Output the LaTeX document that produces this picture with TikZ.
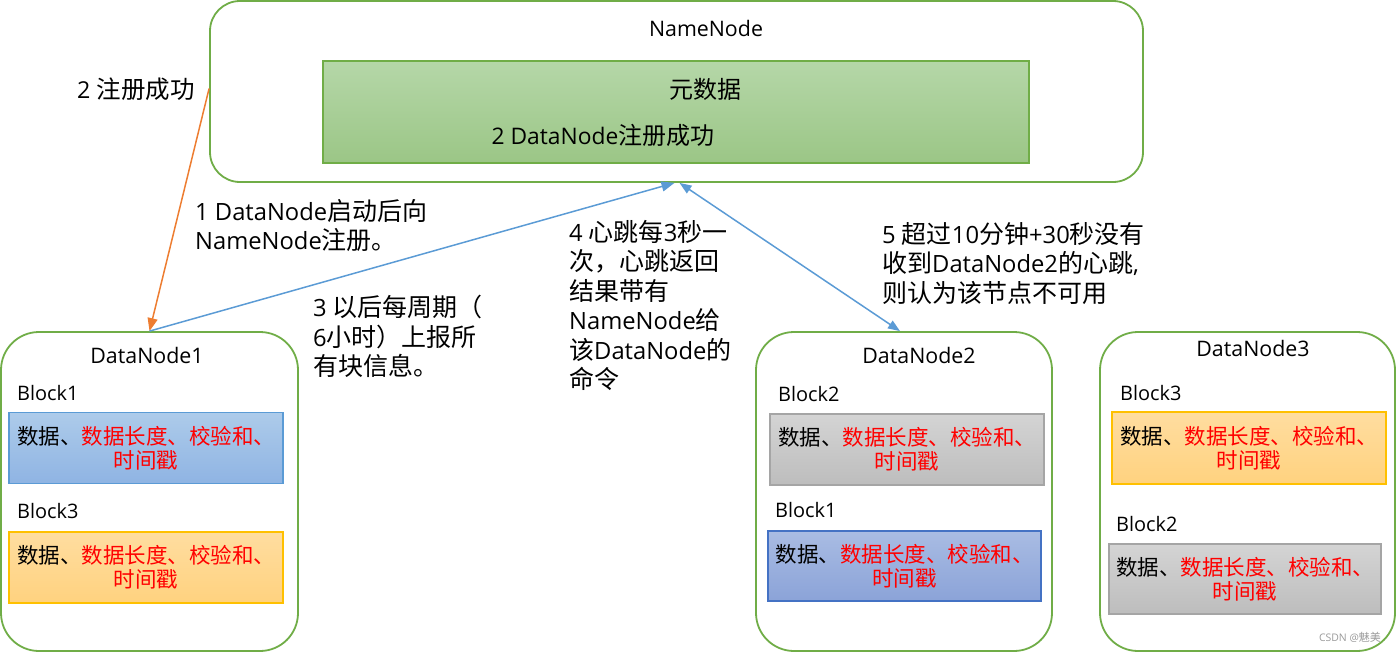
\documentclass[tikz,border=0pt]{standalone}
\usepackage{fontspec}
\setmainfont{Open Sans}[Scale=0.95]
\newfontfamily\zhfont{Noto Sans CJK SC}
\newcommand{\zh}[1]{{\zhfont #1}}
\usetikzlibrary{arrows.meta}
\definecolor{cgreen}{HTML}{70AD47}
\definecolor{corange}{HTML}{ED7D31}
\definecolor{cblue}{HTML}{5B9BD5}
\definecolor{cdblue}{HTML}{4472C4}
\definecolor{cgold}{HTML}{FFC000}
\definecolor{cgray}{HTML}{A5A5A5}
\definecolor{cred}{HTML}{FF0000}
\definecolor{cwm}{HTML}{9A9A9A}
\newcommand{\blocktext}{\zh{数据、}\textcolor{cred}{\zh{数据长度、校验和、}}\\\textcolor{cred}{\zh{时间戳}}}
\begin{document}
\begin{tikzpicture}[x=1pt,y=-1pt,
  font=\fontsize{21}{29.5}\selectfont,
  container/.style={draw=cgreen, line width=1.8pt, rounded corners=38pt, fill=white, inner sep=0pt},
  nnbox/.style={draw=cgreen, line width=1.8pt, rounded corners=30pt, fill=white, inner sep=0pt},
  metabox/.style={draw=cgreen, line width=1.6pt, top color={rgb,255:red,181;green,215;blue,168}, bottom color={rgb,255:red,155;green,198;blue,134}, inner sep=0pt},
  blockbox/.style={line width=1.5pt, minimum width=274pt, minimum height=71pt, inner sep=0pt, align=center, font=\fontsize{21.5}{24}\selectfont},
  bluebox/.style={blockbox, draw=cblue, top color={rgb,255:red,173;green,203;blue,234}, bottom color={rgb,255:red,143;green,180;blue,227}},
  dbluebox/.style={blockbox, draw=cdblue, top color={rgb,255:red,169;green,188;blue,227}, bottom color={rgb,255:red,139;green,163;blue,216}},
  orangebox/.style={blockbox, draw=cgold, top color={rgb,255:red,255;green,221;blue,160}, bottom color={rgb,255:red,255;green,210;blue,127}},
  graybox/.style={blockbox, draw=cgray, top color={rgb,255:red,212;green,212;blue,212}, bottom color={rgb,255:red,189;green,189;blue,189}},
  title/.style={inner sep=0pt, font=\fontsize{22.5}{27}\selectfont},
  metatext/.style={inner sep=0pt, font=\fontsize{24}{28}\selectfont},
  lbl/.style={inner sep=0pt, anchor=west},
  multi/.style={inner sep=0pt, anchor=north west, align=left, font=\fontsize{25}{29.5}\selectfont},
  conn/.style={line width=1.5pt},
  tip/.style={-{Triangle[length=13pt,width=10pt]}},
  dtip/.style={{Triangle[length=12pt,width=9pt]}-{Triangle[length=12pt,width=9pt]}}
]
\useasboundingbox (0,0) rectangle (1398,653);

% NameNode
\node[nnbox, minimum width=933pt, minimum height=181pt] (nn) at (676.5,91.5) {};
\node[title] (nntitle) at (706,28) {NameNode};
\node[metabox, minimum width=706pt, minimum height=102pt] (meta) at (676,112) {};
\node[metatext] (metatitle) at (705,89) {\zh{元数据}};
\node[metatext] (metareg) at (603,135) {2 DataNode\zh{注册成功}};

% DataNodes
\node[container, minimum width=297pt, minimum height=319pt] (dn1) at (149.5,491.5) {};
\node[container, minimum width=296pt, minimum height=319pt] (dn2) at (904,491.5) {};
\node[container, minimum width=295pt, minimum height=319pt] (dn3) at (1247.5,491.5) {};

\node[title] (dn1title) at (147,355) {DataNode1};
\node[title] (dn2title) at (919,355) {DataNode2};
\node[title] (dn3title) at (1253,348) {DataNode3};

\node[lbl] (dn1l1) at (17,393) {Block1};
\node[bluebox] (dn1b1) at (146,448) {\blocktext};
\node[lbl] (dn1l3) at (17,511) {Block3};
\node[orangebox] (dn1b3) at (146,567.5) {\blocktext};

\node[lbl] (dn2l2) at (778,394) {Block2};
\node[graybox] (dn2b2) at (907,449.5) {\blocktext};
\node[lbl] (dn2l1) at (775,510) {Block1};
\node[dbluebox, minimum width=273pt, minimum height=70pt] (dn2b1) at (904.5,566) {\blocktext};

\node[lbl] (dn3l3) at (1120,393) {Block3};
\node[orangebox, minimum height=72pt] (dn3b3) at (1249,448) {\blocktext};
\node[lbl] (dn3l2) at (1116,524) {Block2};
\node[graybox, minimum width=272pt, minimum height=70pt] (dn3b2) at (1245,579) {\blocktext};

\node[inner sep=0pt, text=cwm, font=\fontsize{11}{13}\selectfont] (wm) at (1350,637) {CSDN @\zh{魅美}};

% labels
\node[lbl, font=\fontsize{24.5}{29}\selectfont] (lab2) at (77,89) {2 \zh{注册成功}};
\node[multi] (lab1) at (195,199) {1 DataNode\zh{启动后向}\\NameNode\zh{注册。}};
\node[multi] (lab3) at (313,295) {3 \zh{以后每周期（}\\6\zh{小时）上报所}\\\zh{有块信息。}};
\node[multi] (lab4) at (569,220) {4 \zh{心跳每}3\zh{秒一}\\\zh{次，心跳返回}\\\zh{结果带有}\\NameNode\zh{给}\\\zh{该}DataNode\zh{的}\\\zh{命令}};
\node[multi] (lab5) at (882,222) {5 \zh{超过}10\zh{分钟}+30\zh{秒没有}\\\zh{收到}DataNode2\zh{的心跳},\\\zh{则认为该节点不可用}};

% connectors
\draw[conn, corange, tip] ([yshift=3pt]nn.west) -- (dn1.north);
\draw[conn, cblue, tip] (dn1.north) -- ([xshift=-2pt]nn.south);
\draw[conn, cblue, dtip] ([xshift=3pt]nn.south) -- ([xshift=-4pt]dn2.north);
\end{tikzpicture}
\end{document}
